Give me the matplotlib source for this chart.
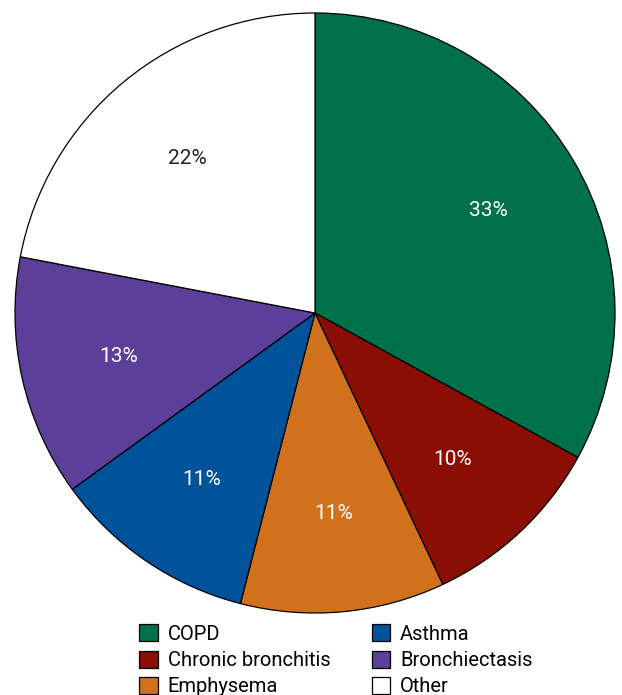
import matplotlib
matplotlib.use("Agg")
import matplotlib.pyplot as plt

categories = ["COPD", "Chronic bronchitis", "Emphysema", "Asthma", "Bronchiectasis", "Other"]
values = [33, 10, 11, 11, 13, 22]
colors = ["#00704A", "#8B0E04", "#D2711B", "#00539B", "#5B3F99", "#FFFFFF"]
label_colors = ["white", "white", "white", "white", "white", "#222222"]

plt.rcParams['font.family'] = ['Roboto', 'DejaVu Sans']

fig = plt.figure(figsize=(6.22, 6.95), dpi=100)
cx, cy, r = 315 / 622, 1 - 313 / 695, 300
ax = fig.add_axes([cx - r / 622, cy - r / 695, 2 * r / 622, 2 * r / 695])

wedges, texts, autotexts = ax.pie(
    values, colors=colors, startangle=90, counterclock=False,
    autopct='%d%%', pctdistance=0.67,
    wedgeprops=dict(edgecolor='black', linewidth=0.9),
    textprops=dict(fontsize=15),
)
for t, c in zip(autotexts, label_colors):
    t.set_color(c)
ax.set_xlim(-1, 1)
ax.set_ylim(-1, 1)
ax.set_aspect('equal')

leg = fig.legend(wedges, categories, ncol=2, loc='upper left',
                 bbox_to_anchor=(123 / 622, 1 - 608 / 695),
                 frameon=False, prop=dict(size=14.5),
                 handlelength=0.92, handleheight=0.92,
                 handletextpad=0.5, columnspacing=2.05, labelspacing=0.35,
                 borderpad=0.3)
for h in leg.legend_handles:
    h.set_linewidth(0.9)

fig.savefig("out.png", dpi=100)
